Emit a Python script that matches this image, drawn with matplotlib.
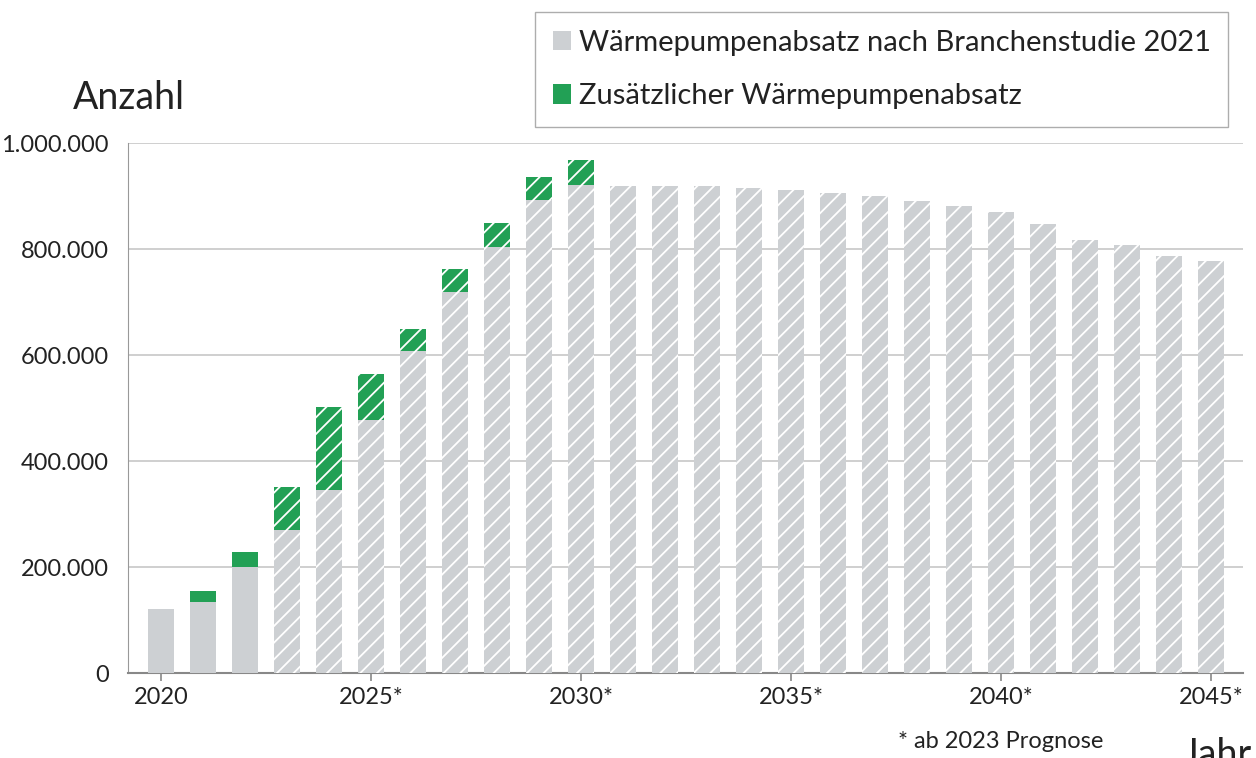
import numpy as np
import matplotlib.pyplot as plt
from matplotlib.patches import Patch
from matplotlib.ticker import FuncFormatter

plt.rcParams['font.family'] = ['Lato', 'DejaVu Sans']
plt.rcParams['hatch.linewidth'] = 1.3

# Jahre und Werte
jahre = list(range(2020, 2046))
basis = [120000, 135000, 200000, 270000, 345000, 477000, 607000, 720000, 805000, 892000,
         921000, 919000, 919000, 919000, 915000, 911000, 906000, 900000, 891000, 881000,
         870000, 847000, 817000, 808000, 787000, 777000]
zusatz = [0, 19000, 29000, 82000, 157000, 87000, 42000, 42000, 44000, 44000, 48000] + [0] * 15
xticks = [2020, 2025, 2030, 2035, 2040, 2045]
xlabels = ['2020', '2025*', '2030*', '2035*', '2040*', '2045*']
yticks = [0, 200000, 400000, 600000, 800000, 1000000]

grau = '#cdd0d3'
gruen = '#22a055'

fig = plt.figure(figsize=(12.56, 7.58), dpi=100)
ax = fig.add_axes([0.1019, 0.1121, 0.8878, 0.6989])

for j, b, z in zip(jahre, basis, zusatz):
    schraffur = '//' if j >= 2023 else None
    ax.bar(j, b, width=0.62, color=grau, edgecolor='white', linewidth=0,
           hatch=schraffur, zorder=3)
    if z > 0:
        ax.bar(j, z, bottom=b, width=0.62, color=gruen, edgecolor='white',
               linewidth=0, hatch=schraffur, zorder=3)

ax.set_xlim(2019.216, 2045.76)
ax.set_ylim(0, 1000000)
ax.set_yticks(yticks)
ax.yaxis.set_major_formatter(FuncFormatter(lambda v, p: f'{int(v):,}'.replace(',', '.')))
ax.set_xticks(xticks)
ax.set_xticklabels(xlabels)
ax.tick_params(axis='y', length=0, pad=14, labelsize=17, labelcolor='#222222')
ax.tick_params(axis='x', length=6, width=1.2, color='#888888', pad=4,
               labelsize=17, labelcolor='#222222')

ax.grid(axis='y', color='#cccccc', linewidth=1.3, zorder=0)
ax.spines['top'].set_visible(False)
ax.spines['right'].set_visible(False)
ax.spines['left'].set_color('#999999')
ax.spines['bottom'].set_color('#888888')
ax.spines['bottom'].set_linewidth(1.5)

fig.text(73 / 1256, 1 - 109 / 758, 'Anzahl', fontsize=27, color='#222222')
fig.text(898 / 1256, 1 - 748 / 758, '* ab 2023 Prognose', fontsize=17, color='#222222')
fig.text(1183 / 1256, 1 - 766 / 758, 'Jahr', fontsize=27, color='#222222')

griffe = [Patch(facecolor=grau, edgecolor='none'), Patch(facecolor=gruen, edgecolor='none')]
leg = fig.legend(griffe, ['Wärmepumpenabsatz nach Branchenstudie 2021',
                          'Zusätzlicher Wärmepumpenabsatz'],
                 loc='upper left', bbox_to_anchor=(535 / 1256, 1 - 12 / 758),
                 fontsize=21, frameon=True, fancybox=False, handlelength=0.65,
                 handleheight=0.65, handletextpad=0.25, borderpad=0.6, labelspacing=0.95,
                 borderaxespad=0)
leg.get_frame().set_edgecolor('#999999')
leg.get_frame().set_linewidth(1.0)
for t in leg.get_texts():
    t.set_color('#222222')

fig.savefig('out.png', dpi=100)
